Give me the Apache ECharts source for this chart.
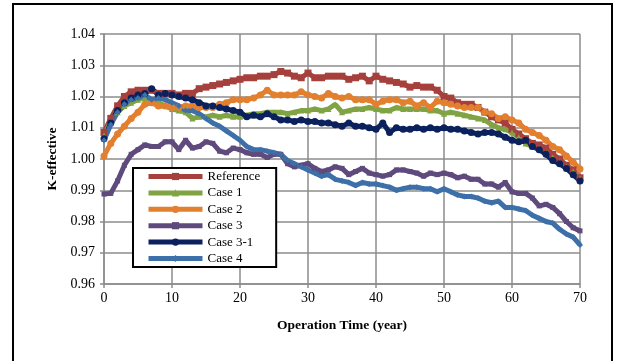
<!DOCTYPE html>
<html>
<head>
<meta charset="utf-8">
<style>
  html, body { margin: 0; padding: 0; background: #fff; }
  #chart { width: 617px; height: 361px; }
</style>
<script src="https://cdn.jsdelivr.net/npm/echarts@6/dist/echarts.min.js"></script>
</head>
<body>
<div id="chart"></div>
<script>
// Operation time in years, one point per year
const years = Array.from({ length: 71 }, (_, i) => i);

const seriesNames = ['Reference', 'Case 1', 'Case 2', 'Case 3', 'Case 3-1', 'Case 4'];

const reference = [
  1.0085, 1.013, 1.017, 1.020, 1.0215, 1.022, 1.022, 1.022, 1.021, 1.021,
  1.021, 1.0205, 1.021, 1.021, 1.0225, 1.023, 1.0235, 1.024, 1.0245, 1.025,
  1.0255, 1.026, 1.026, 1.0265, 1.0265, 1.027, 1.028, 1.0275, 1.0265, 1.026,
  1.0275, 1.026, 1.026, 1.0265, 1.0265, 1.0265, 1.0255, 1.026, 1.0265, 1.025,
  1.0265, 1.0255, 1.025, 1.0245, 1.024, 1.023, 1.0235, 1.023, 1.023, 1.022,
  1.020, 1.0195, 1.018, 1.0175, 1.0175, 1.0165, 1.015, 1.0135, 1.0125, 1.0115,
  1.0095, 1.008, 1.0065, 1.005, 1.0045, 1.0035, 1.0015, 1.000, 0.998, 0.9965,
  0.994
];

const case1 = [
  1.0075, 1.012, 1.015, 1.017, 1.018, 1.019, 1.0195, 1.019, 1.018, 1.017,
  1.016, 1.0155, 1.015, 1.013, 1.0135, 1.0135, 1.014, 1.0135, 1.014, 1.0135,
  1.0135, 1.014, 1.0145, 1.0145, 1.015, 1.015, 1.015, 1.0145, 1.015, 1.0155,
  1.0155, 1.016, 1.0155, 1.016, 1.0175, 1.015, 1.0155, 1.016, 1.016, 1.0165,
  1.016, 1.0155, 1.0155, 1.0165, 1.016, 1.016, 1.016, 1.016, 1.0155, 1.0155,
  1.0145, 1.015, 1.0145, 1.014, 1.0135, 1.013, 1.0125, 1.011, 1.010, 1.0095,
  1.0085, 1.007, 1.005, 1.004, 1.0035, 1.002, 1.0005, 0.999, 0.9975, 0.996,
  0.9938
];

const case2 = [
  1.001, 1.005, 1.008, 1.0105, 1.013, 1.015, 1.0175, 1.018, 1.017, 1.017,
  1.0165, 1.0165, 1.017, 1.017, 1.0165, 1.0165, 1.0165, 1.0175, 1.018, 1.019,
  1.019, 1.019, 1.0195, 1.0205, 1.022, 1.0205, 1.0205, 1.0205, 1.0205, 1.0215,
  1.0205, 1.020, 1.0195, 1.021, 1.020, 1.0195, 1.020, 1.019, 1.019, 1.019,
  1.0175, 1.0185, 1.019, 1.019, 1.018, 1.0185, 1.017, 1.018, 1.0165, 1.0185,
  1.018, 1.0175, 1.017, 1.0165, 1.0165, 1.0165, 1.015, 1.0145, 1.013, 1.0135,
  1.0125, 1.0115, 1.0095, 1.0085, 1.0075, 1.006, 1.004, 1.003, 1.001, 0.999,
  0.9968
];

const case3 = [
  0.9888, 0.989, 0.993, 0.998, 1.0015, 1.003, 1.0045, 1.004, 1.004, 1.0055,
  1.0055, 1.003, 1.006, 1.0035, 1.004, 1.0055, 1.005, 1.0025, 1.002, 1.0035,
  1.003, 1.002, 1.0015, 1.0015, 1.0005, 1.0015, 1.0015, 0.9985, 0.9975, 0.998,
  0.9985, 0.997, 0.996, 0.9965, 0.9975, 0.997, 0.995, 0.996, 0.997, 0.9955,
  0.995, 0.9945, 0.995, 0.9965, 0.9965, 0.996, 0.9955, 0.9945, 0.9955, 0.995,
  0.9955, 0.995, 0.994, 0.9945, 0.9935, 0.9935, 0.992, 0.992, 0.991, 0.9925,
  0.9895, 0.989, 0.989, 0.9875, 0.985, 0.9855, 0.9845, 0.9825, 0.980, 0.978,
  0.977
];

const case3_1 = [
  1.0065, 1.0115, 1.0155, 1.018, 1.0195, 1.0205, 1.021, 1.0225, 1.0205, 1.021,
  1.0205, 1.020, 1.0195, 1.019, 1.018, 1.017, 1.017, 1.0165, 1.016, 1.0155,
  1.015, 1.0135, 1.014, 1.0135, 1.0145, 1.0135, 1.0125, 1.0125, 1.012, 1.0125,
  1.012, 1.012, 1.0115, 1.0115, 1.011, 1.0105, 1.0115, 1.0105, 1.0105, 1.010,
  1.0095, 1.0115, 1.0085, 1.010, 1.0095, 1.0095, 1.010, 1.0095, 1.010, 1.0095,
  1.010, 1.0095, 1.0095, 1.009, 1.0085, 1.008, 1.0085, 1.0085, 1.008, 1.007,
  1.006, 1.0055, 1.006, 1.004, 1.003, 1.0015, 0.9995, 0.9985, 0.997, 0.995,
  0.993
];

const case4 = [
  1.006, 1.011, 1.015, 1.0175, 1.019, 1.0195, 1.0205, 1.019, 1.0195, 1.019,
  1.018, 1.017, 1.0155, 1.0155, 1.0145, 1.013, 1.0115, 1.0105, 1.009, 1.0075,
  1.006, 1.004, 1.003, 1.003, 1.0025, 1.002, 1.0015, 0.9995, 0.9985, 0.9975,
  0.9965, 0.9955, 0.9945, 0.995, 0.9935, 0.993, 0.9925, 0.9915, 0.9925, 0.992,
  0.992, 0.9915, 0.991, 0.990, 0.9905, 0.991, 0.991, 0.9905, 0.9905, 0.9895,
  0.9905, 0.9895, 0.9885, 0.988, 0.988, 0.9875, 0.9865, 0.986, 0.9865, 0.9845,
  0.9845, 0.984, 0.9835, 0.982, 0.981, 0.980, 0.9795, 0.9775, 0.976, 0.975,
  0.9725
];

const seriesValues = [reference, case1, case2, case3, case3_1, case4];
const seriesColors = ['#A6403C', '#80A343', '#E2802F', '#5F4A7D', '#0B215E', '#3D70A9'];
const seriesSymbols = ['rect', 'triangle', 'circle', 'rect', 'circle', 'diamond'];
const seriesSymbolSizes = [7, 6, 7, 5, 7, 6];

const FONT = '"Liberation Serif", "Times New Roman", serif';

const chart = echarts.init(document.getElementById('chart'), null, { renderer: 'canvas' });

const series = seriesNames.map((name, k) => ({
  name,
  type: 'line',
  data: years.map((t, i) => [t, seriesValues[k][i]]),
  symbol: seriesSymbols[k],
  symbolSize: seriesSymbolSizes[k],
  showSymbol: true,
  color: seriesColors[k],
  lineStyle: { width: 5, color: seriesColors[k] },
  itemStyle: { color: seriesColors[k], borderWidth: 0 },
  emphasis: { disabled: true },
  animation: false
}));

chart.setOption({
  backgroundColor: '#fff',
  animation: false,
  graphic: [{
    type: 'rect',
    shape: { x: 13, y: 4, width: 599, height: 420 },
    style: { fill: 'none', stroke: '#000', lineWidth: 2 },
    silent: true
  }],
  grid: { left: 104, top: 34, width: 476, height: 250 },
  xAxis: {
    type: 'value',
    min: 0, max: 70, interval: 10,
    name: 'Operation Time (year)',
    nameLocation: 'middle',
    nameGap: 35,
    nameTextStyle: { fontFamily: FONT, fontSize: 13.5, fontWeight: 'bold', color: '#000' },
    axisLine: { show: true, lineStyle: { color: '#8c8c8c', width: 1.5 } },
    axisTick: { show: true, length: 4, lineStyle: { color: '#8c8c8c', width: 1.5 } },
    axisLabel: { fontFamily: FONT, fontSize: 14, color: '#000', margin: 7 },
    splitLine: { show: true, lineStyle: { color: '#8c8c8c', width: 1.5 } }
  },
  yAxis: {
    type: 'value',
    min: 0.96, max: 1.04, interval: 0.01,
    name: 'K-effective',
    nameLocation: 'middle',
    nameGap: 36,
    nameTextStyle: { fontFamily: FONT, fontSize: 13.5, fontWeight: 'bold', color: '#000' },
    axisLine: { show: true, lineStyle: { color: '#8c8c8c', width: 1.5 } },
    axisTick: { show: true, length: 4, lineStyle: { color: '#8c8c8c', width: 1.5 } },
    axisLabel: {
      fontFamily: FONT, fontSize: 14, color: '#000', margin: 9,
      formatter: v => v.toFixed(2)
    },
    splitLine: { show: true, lineStyle: { color: '#8c8c8c', width: 1.5 } }
  },
  legend: {
    data: seriesNames,
    orient: 'vertical',
    left: 133,
    top: 168,
    padding: [2, 16, 2, 13],
    itemWidth: 54,
    itemHeight: 9,
    itemGap: 3.4,
    itemTextGap: 4,
    itemStyle: { borderWidth: 0 },
    lineStyle: { width: 5 },
    borderColor: '#000',
    borderWidth: 2,
    backgroundColor: '#fff',
    selectedMode: false,
    textStyle: { fontFamily: FONT, fontSize: 13, color: '#000', lineHeight: 13 }
  },
  series
});
</script>
</body>
</html>
